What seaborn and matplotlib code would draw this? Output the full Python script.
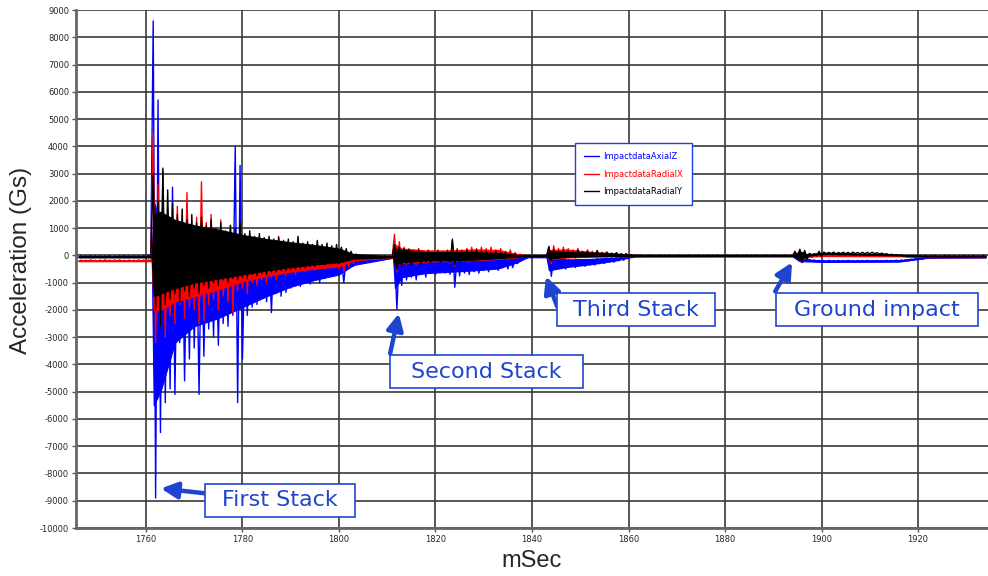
import numpy as np
import pandas as pd
import matplotlib
matplotlib.use("Agg")
import matplotlib.pyplot as plt
import seaborn as sns
from matplotlib.patches import Rectangle
from matplotlib.lines import Line2D

# ---------------- data (per-millisecond upper / lower peaks) -------------
T_START = 1746  # first 1 ms bin
series_names = ["ImpactdataAxialZ", "ImpactdataRadialX", "ImpactdataRadialY"]
series_colors = ["#0000ff", "#ff0000", "#000000"]

axialz_hi = (
    [-10, -30, -5, -20, -15, -35, -10, -25, -20, -5, -30, -15, -20, -10, 20]
    + [8600, 5700, 3100, 1500, 2500, 900, 1300, 700, 1100, 600, 900, 500, 700, 400, 600, 300, 500,
       4000, 3300, 400, 300, 400, 200, 300, 150, 250, 100, 200, 100, 150, 50, 100, 0, 50, 0, -50, 0,
       -100, -50, -100, -50, -80, -60]
    + [-20, -40, -15, -30, -25, -45, -20]
    + [300, 100, 0, 100, -50, 50, -100, 0, -50, 0, -50, 50, 600, 100, 0, -50, 0, -100, -50, -100,
       -50, -100, -50, -100, -50, -100, -80, -60]
    + [-20, -10, -30, -20]
    + [330, -100, -150, -200, -150, -200, -150, -180, -150, -150, -120, -130, -100, -100, -80, -60,
       -50, -30, -20]
    + [-10, -25] * 16
    + [50, 100, -100, -150, -170, -185, -190, -180, -195, -185, -190, -180, -195, -185, -190, -180,
       -195, -185, -190, -180, -185, -175, -170]
    + [-160, -140, -120, -100, -80, -60, -50, -45, -50, -40, -50, -45, -50, -40, -50, -45, -50]
)
axialz_lo = (
    [-60, -50, -70, -55, -65, -50, -75, -60, -55, -70, -60, -50, -65, -60, -90]
    + [-8900, -6500, -5400, -4900, -5100, -3200, -4600, -3800, -3400, -5100, -3700, -2700, -3000,
       -3300, -2500, -2600, -2200, -5400, -3800, -2200, -1900, -1800, -1500, -1700, -2100, -1400,
       -1500, -1360, -1200, -1100, -1140, -1000, -1050, -900, -1000, -850, -800, -750, -700, -1000,
       -500, -400, -300]
    + [-90, -80, -100, -85, -95, -80, -100]
    + [-1980, -1100, -900, -800, -900, -700, -800, -650, -700, -600, -650, -700, -1170, -750, -650,
       -700, -600, -650, -550, -600, -500, -550, -450, -500, -450, -300, -150, -100]
    + [-70, -60, -80, -70]
    + [-770, -500, -450, -500, -400, -450, -380, -400, -350, -350, -300, -300, -250, -250, -200,
       -180, -120, -80, -50]
    + [-45, -35] * 16
    + [-150, -250, -210, -220, -230, -235, -240, -230, -245, -235, -240, -230, -245, -235, -240,
       -230, -245, -235, -240, -230, -225, -215, -210]
    + [-200, -180, -160, -140, -115, -95, -85, -80, -85, -75, -85, -80, -85, -75, -85, -80, -85]
)

radialx_hi = (
    [-170, -175, -165, -180, -170, -160, -175, -170, -165, -180, -170, -175, -165, -170, -160]
    + [4500, 2600, 2000, 1500, 1200, 1800, 1100, 2300, 1000, 1400, 2700, 1200, 1500, 900, 1300, 800,
       1100, 900, 1000, 700, 800, 600, 700, 500, 600, 500, 700, 400, 500, 400, 450, 300, 400, 300,
       350, 250, 300, 200, 250, 150, 100, 50, 0]
    + [10, -20, 0, -15, -5, -25, 0]
    + [770, 500, 300, 250, 200, 250, 150, 200, 150, 200, 150, 200, 350, 250, 200, 250, 300, 250,
       300, 250, 300, 200, 250, 150, 200, 100, 50, 0]
    + [0, -10, 10, 0]
    + [200, 350, 250, 300, 250, 200, 250, 150, 200, 150, 150, 100, 120, 80, 100, 60, 50, 20, 0]
    + [0, -10] * 16
    + [100, 220, 150, 50, 30, 60, 80, 60, 70, 50, 60, 50, 60, 40, 50, 40, 50, 30, 40, 20, 30, 20, 10]
    + [-20, -30, -25, -30, -20, -30, -25, -30, -20, -30, -25, -30, -20, -30, -25, -30, -20]
)
radialx_lo = (
    [-215, -220, -210, -225, -215, -205, -220, -215, -210, -225, -215, -220, -210, -215, -230]
    + [-3200, -2600, -3000, -2200, -2500, -1800, -2300, -1900, -2000, -2500, -2400, -1800, -1600,
       -2000, -1500, -1700, -2100, -1300, -1200, -1400, -1000, -1100, -900, -1000, -800, -900, -700,
       -750, -600, -700, -550, -600, -500, -550, -450, -500, -400, -450, -500, -600, -400, -300, -200]
    + [-80, -70, -90, -75, -85, -70, -90]
    + [-600, -400, -350, -300, -350, -250, -300, -250, -250, -200, -250, -300, -400, -250, -200,
       -250, -200, -200, -150, -200, -150, -150, -100, -150, -100, -80, -60, -50]
    + [-60, -50, -60, -50]
    + [-300, -150, -100, -120, -80, -100, -60, -80, -50, -60, -40, -50, -30, -40, -30, -30, -20,
       -20, -20]
    + [-30, -25] * 16
    + [-100, -250, -150, -80, -40, -30, -20, -30, -20, -30, -20, -30, -20, -30, -20, -30, -20, -30,
       -25, -35, -30, -40, -35]
    + [-70, -65, -75, -70, -65, -75, -70, -65, -75, -70, -65, -75, -70, -65, -75, -70, -65]
)

radialy_hi = (
    [-40, -35, -45, -30, -40, -35, -45, -40, -30, -40, -35, -45, -40, -35, -30]
    + [3000, 2000, 3200, 2400, 1900, 1500, 1700, 1300, 1500, 1200, 1400, 1100, 1300, 1000, 1200, 900,
       1100, 1000, 1200, 800, 900, 700, 800, 650, 700, 600, 650, 550, 600, 500, 700, 450, 500, 400,
       550, 400, 450, 350, 400, 300, 250, 150, 50]
    + [-20, -40, -25, -35, -40, -25, -30]
    + [400, 300, 250, 200, 150, 200, 100, 150, 100, 150, 100, 150, 550, 200, 150, 200, 150, 200,
       150, 150, 100, 150, 100, 100, 50, 50, 0, 0]
    + [0, 10, -10, 0]
    + [300, 200, 150, 180, 150, 120, 200, 130, 150, 100, 180, 100, 120, 80, 100, 60, 60, 30, 10]
    + [5, -5] * 16
    + [150, 220, 180, 80, 60, 150, 120, 110, 120, 105, 115, 110, 120, 105, 115, 110, 115, 100, 80,
       60, 40, 25, 15]
    + [-10, -15, -10, -20, -10, -15, -10, -20, -10, -15, -10, -20, -10, -15, -10, -20, -10]
)
radialy_lo = (
    [-80, -75, -85, -70, -80, -75, -85, -80, -70, -80, -75, -85, -80, -75, -70]
    + [-2000, -2600, -1800, -1600, -1400, -1700, -1300, -1500, -1200, -1400, -1100, -1200, -1000,
       -1100, -900, -1000, -850, -900, -800, -850, -700, -750, -650, -700, -600, -600, -550, -550,
       -500, -500, -450, -450, -400, -400, -350, -350, -300, -300, -300, -250, -200, -150, -120]
    + [-70, -60, -75, -65, -70, -60, -75]
    + [-500, -400, -300, -350, -250, -300, -250, -250, -200, -250, -200, -250, -350, -250, -200,
       -200, -200, -150, -150, -150, -100, -100, -100, -80, -60, -50, -40, -30]
    + [-50, -40, -50, -40]
    + [-200, -100, -60, -80, -50, -60, -40, -50, -40, -40, -30, -30, -30, -20, -20, -20, -20, -10,
       -10]
    + [-25, -15] * 16
    + [-80, -260, -150, -20, -10, -50, 50, 60, 55, 65, 60, 55, 65, 60, 55, 65, 60, 50, 40, 20, 10,
       0, -10]
    + [-45, -50, -40, -45, -50, -40, -45, -50, -40, -45, -50, -40, -45, -50, -40, -45, -50]
)

# dense "core" band of each trace (where the oscillation is so fast that it reads as solid colour)
core_t = [1746, 1761.2, 1761.6, 1763, 1766, 1770, 1775, 1780, 1785, 1790, 1795, 1800, 1803,
          1811.2, 1811.6, 1813, 1818, 1823, 1828, 1833, 1837, 1839, 1843, 1843.5, 1847, 1852,
          1857, 1861, 1894, 1895.5, 1897, 1900, 1916, 1922, 1934]
axialz_core_hi = [-20, -20, 2000, 1200, 600, 400, 300, 200, 100, 50, 0, -50, -60,
                  -30, 200, 0, -50, -20, -60, -70, -80, -20, -20, 100, -150, -130,
                  -80, -20, -15, 50, -150, -185, -175, -60, -45]
axialz_core_lo = [-60, -60, -5500, -5000, -3200, -2600, -2300, -1900, -1500, -1150, -900, -700, -350,
                  -90, -1200, -800, -650, -600, -550, -480, -250, -70, -70, -550, -430, -330,
                  -200, -45, -40, -220, -220, -240, -230, -90, -80]
radialx_core_hi = [-175, -175, 1500, 1400, 1100, 1000, 850, 650, 550, 420, 330, 200, 0,
                   -10, 400, 250, 180, 180, 220, 200, 50, 0, 0, 200, 220, 130,
                   80, 0, -5, 150, 40, 60, 15, -25, -25]
radialx_core_lo = [-215, -215, -2000, -2000, -1700, -1500, -1250, -950, -750, -600, -480, -400, -180,
                   -80, -350, -280, -230, -200, -170, -130, -70, -55, -55, -150, -80, -50,
                   -35, -20, -28, -150, -50, -25, -35, -70, -70]
radialy_core_hi = [-45, -45, 1500, 1600, 1300, 1100, 950, 750, 600, 480, 380, 250, 50,
                   -30, 250, 200, 120, 120, 120, 80, 10, 0, 0, 150, 120, 100,
                   60, 10, 0, 150, 40, 100, 20, -15, -15]
radialy_core_lo = [-75, -75, -1500, -1400, -1200, -1000, -850, -700, -550, -430, -330, -250, -120,
                   -70, -350, -250, -180, -180, -150, -100, -50, -45, -45, -120, -50, -30,
                   -20, -15, -20, -150, -20, 55, 0, -45, -45]

x_ticks = [1760, 1780, 1800, 1820, 1840, 1860, 1880, 1900, 1920]
y_ticks = list(range(-10000, 9001, 1000))

annotations = ["First Stack", "Second Stack", "Third Stack", "Ground impact"]
arrow_tips = [(1763.1, -8550), (1812.4, -2130), (1842.9, -770), (1893.9, -257)]
arrow_tails = [(1772.6, -8735), (1810.6, -3600), (1845.2, -1870), (1890.4, -1320)]


def trace(hi, lo):
    n = min(len(hi), len(lo))
    t, v = [], []
    for i in range(n):
        t += [T_START + i + 0.5, T_START + i + 1.0]
        v += [hi[i], lo[i]]
    return t, v


frames = []
for name, hi, lo in zip(series_names,
                        [axialz_hi, radialx_hi, radialy_hi],
                        [axialz_lo, radialx_lo, radialy_lo]):
    t, v = trace(hi, lo)
    frames.append(pd.DataFrame({"t": t, "val": v, "series": name}))
df = pd.concat(frames, ignore_index=True)

cores = [(axialz_core_hi, axialz_core_lo), (radialx_core_hi, radialx_core_lo),
         (radialy_core_hi, radialy_core_lo)]

# ---------------- figure -------------
sns.set_theme(style="white")
plt.rcParams["font.family"] = ["DejaVu Sans"]

W, H = 988, 576
fig = plt.figure(figsize=(W / 100, H / 100), dpi=100, facecolor="white")
ax = fig.add_axes([76 / W, 48 / H, 912 / W, 518 / H])
ax.set_facecolor("white")

pal = dict(zip(series_names, series_colors))
for k, (name, (chi, clo)) in enumerate(zip(series_names, cores)):
    ax.fill_between(core_t, clo, chi, color=pal[name], linewidth=0.8, edgecolor=pal[name],
                    zorder=2 + k)
    sns.lineplot(data=df[df["series"] == name], x="t", y="val", color=pal[name],
                 estimator=None, sort=False, linewidth=1.0, legend=False, ax=ax, zorder=2 + k)

ax.set_xlim(1745.5, 1934.5)
ax.set_ylim(-10000, 9000)
ax.set_xticks(x_ticks)
ax.set_yticks(y_ticks)
ax.set_xticklabels([str(v) for v in x_ticks])
ax.set_yticklabels([str(v) for v in y_ticks])
ax.tick_params(axis="both", labelsize=6, length=3, width=1, color="#555555", pad=2,
               direction="out", left=True, bottom=True)
ax.grid(True, color="#3a3a3a", linewidth=1.2)
ax.set_axisbelow(True)
for s in ["top", "right"]:
    ax.spines[s].set_visible(False)
for s in ["left", "bottom"]:
    ax.spines[s].set_color("#666666")
    ax.spines[s].set_linewidth(2)

ax.set_xlabel("mSec", fontsize=17, family="Liberation Sans")
ax.set_ylabel("Acceleration (Gs)", fontsize=17.5, family="Liberation Sans")
ax.xaxis.set_label_coords(0.5, -0.042)
ax.yaxis.set_label_coords(-0.048, 0.517)

handles = [Line2D([0], [0], color=c, lw=1) for c in series_colors]
leg = ax.legend(handles, series_names, loc="upper left", bbox_to_anchor=(0.547, 0.743),
                borderaxespad=0, fontsize=6.0, frameon=True, fancybox=False,
                edgecolor="#1f3fe0", handlelength=1.8, handletextpad=0.6, borderpad=1.05,
                labelspacing=1.05, labelcolor=series_colors, framealpha=1)
leg.get_frame().set_linewidth(1.0)
leg.set_zorder(8)

# annotation boxes (pixel layout) and arrows
ann_blue = "#1f45d0"
boxes = [(205, 484, 355, 517), (390, 355, 583, 388), (557, 293, 715, 326), (776, 293, 978, 326)]
for label, (x0, y0, x1, y1), tip, tail in zip(annotations, boxes, arrow_tips, arrow_tails):
    ax.add_patch(Rectangle((x0 / W, 1 - y1 / H), (x1 - x0) / W, (y1 - y0) / H,
                           transform=fig.transFigure, facecolor="white", edgecolor=ann_blue,
                           linewidth=1.2, clip_on=False, zorder=10))
    ax.text((x0 + x1) / 2 / W, 1 - (y0 + y1) / 2 / H, label, transform=fig.transFigure,
            ha="center", va="center", fontsize=16, color=ann_blue, zorder=11)
    ax.annotate("", xy=tip, xytext=tail, xycoords="data", textcoords="data",
                arrowprops=dict(arrowstyle="-|>,head_length=0.7,head_width=0.35", lw=3.2,
                                color=ann_blue, mutation_scale=14, shrinkA=0, shrinkB=0),
                zorder=9, annotation_clip=False)

fig.savefig("out.png", dpi=100, facecolor="white")
